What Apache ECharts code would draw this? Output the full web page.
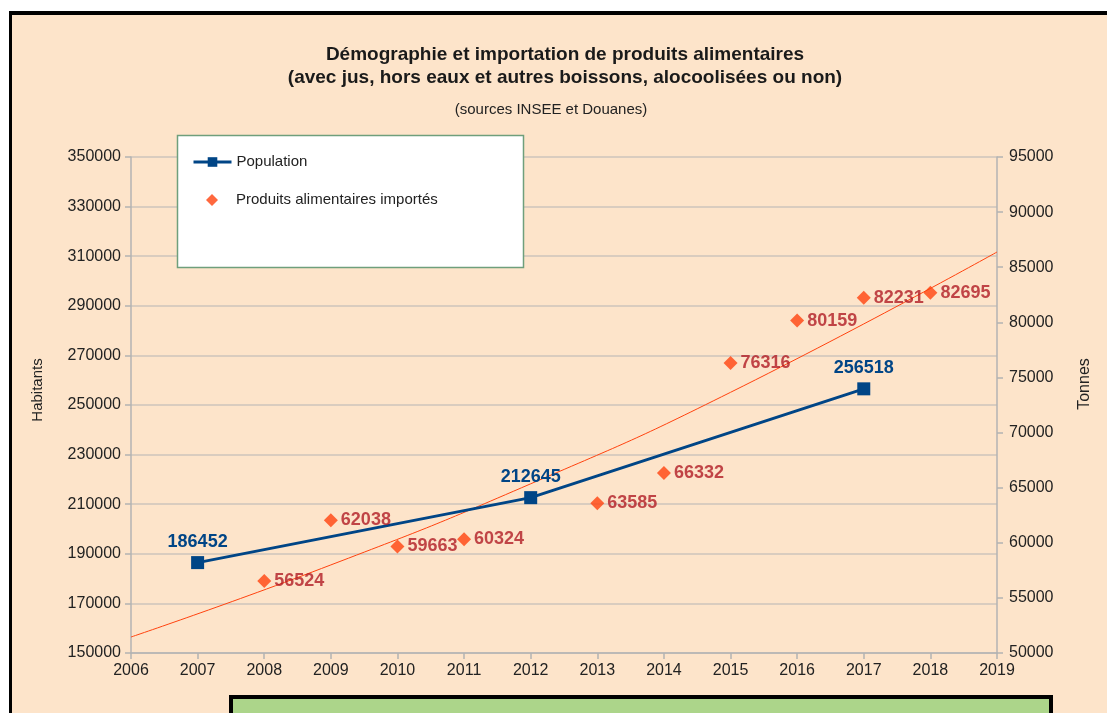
<!DOCTYPE html>
<html>
<head>
<meta charset="utf-8">
<script src="https://cdn.jsdelivr.net/npm/echarts@6/dist/echarts.min.js"></script>
<style>
  html, body { margin: 0; padding: 0; background: #ffffff; }
  .frame {
    position: absolute;
    left: 9px;
    top: 11px;
    width: 1200px;
    height: 800px;
    background: #fde4ca;
    border-top: 4px solid #000;
    border-left: 3px solid #000;
  }
  #chart {
    position: absolute;
    left: 0;
    top: 0;
    width: 1107px;
    height: 713px;
  }
</style>
</head>
<body>
<div class="frame"></div>
<div id="chart"></div>
<script>
// population (Habitants)
const popYears = [2007, 2012, 2017]
const popValues = [186452, 212645, 256518]

// imported food products (Tonnes)
const importYears = [2008, 2009, 2010, 2011, 2013, 2014, 2015, 2016, 2017, 2018]
const importValues = [56524, 62038, 59663, 60324, 63585, 66332, 76316, 80159, 82231, 82695]

// trend curve
const trendYears = [2006, 2009, 2012, 2015, 2019]
const trendValues = [51450, 57990, 65350, 73650, 86380]

const chart = echarts.init(document.getElementById('chart'))

const labelFont = 'Liberation Sans, Arial, sans-serif'

const option = {
  backgroundColor: 'transparent',
  textStyle: { fontFamily: labelFont },
  title: [
    {
      text: 'Démographie et importation de produits alimentaires\n(avec jus, hors eaux et autres boissons, alocoolisées ou non)',
      left: 560,
      top: 38,
      textAlign: 'center',
      textStyle: {
        fontFamily: labelFont,
        fontSize: 19,
        fontWeight: 'bold',
        color: '#1a1a1a',
        lineHeight: 23
      }
    },
    {
      text: '(sources INSEE et Douanes)',
      left: 546,
      top: 97,
      textAlign: 'center',
      textStyle: {
        fontFamily: labelFont,
        fontSize: 15,
        fontWeight: 'normal',
        color: '#222'
      }
    }
  ],
  graphic: [
    {
      type: 'rect',
      z: 3,
      shape: { x: 177.5, y: 135.5, width: 346, height: 132 },
      style: { fill: '#ffffff', stroke: '#6f9f7c', lineWidth: 1.5 }
    },
    {
      type: 'rect',
      z: 3,
      shape: { x: 231, y: 697, width: 820, height: 40 },
      style: { fill: '#acd58a', stroke: '#000', lineWidth: 4 }
    }
  ],
  legend: [
    {
      orient: 'vertical',
      left: 192,
      top: 154,
      padding: 0,
      itemWidth: 38,
      itemHeight: 12,
      z: 5,
      data: ['Population'],
      lineStyle: { width: 3 },
      textStyle: {
        fontFamily: labelFont,
        fontSize: 15,
        color: '#222',
        lineHeight: 16
      }
    },
    {
      orient: 'vertical',
      left: 206,
      top: 192,
      padding: 0,
      itemWidth: 12,
      itemHeight: 12,
      z: 5,
      data: ['Produits alimentaires importés'],
      textStyle: {
        fontFamily: labelFont,
        fontSize: 15,
        color: '#222',
        lineHeight: 16,
        padding: [0, 0, 0, 13]
      }
    }
  ],
  grid: {
    left: 131,
    right: 110,
    top: 157,
    bottom: 60
  },
  xAxis: {
    type: 'value',
    min: 2006,
    max: 2019,
    interval: 1,
    axisLine: { lineStyle: { color: '#b3b3b3', width: 1.5 } },
    axisTick: { length: 6, lineStyle: { color: '#b3b3b3', width: 1.5 } },
    splitLine: { show: false },
    axisLabel: {
      fontSize: 16,
      color: '#222',
      margin: 10,
      formatter: v => String(v)
    }
  },
  yAxis: [
    {
      type: 'value',
      name: 'Habitants',
      nameLocation: 'middle',
      nameGap: 86,
      nameTextStyle: { fontSize: 15, color: '#222', padding: [0, 0, 0, 30] },
      min: 150000,
      max: 350000,
      interval: 20000,
      axisLine: { show: true, lineStyle: { color: '#b3b3b3', width: 1.5 } },
      axisTick: { show: true, length: 6, lineStyle: { color: '#b3b3b3', width: 1.5 } },
      splitLine: { lineStyle: { color: '#cdc5bb', width: 1.5 } },
      axisLabel: {
        fontSize: 16,
        color: '#222',
        margin: 10,
        formatter: v => String(v)
      }
    },
    {
      type: 'value',
      name: 'Tonnes',
      nameLocation: 'middle',
      nameGap: 80,
      nameTextStyle: { fontSize: 16, color: '#222', padding: [0, 0, 0, 42] },
      min: 50000,
      max: 95000,
      interval: 5000,
      axisLine: { show: true, lineStyle: { color: '#b3b3b3', width: 1.5 } },
      axisTick: { show: true, length: 6, lineStyle: { color: '#b3b3b3', width: 1.5 } },
      splitLine: { show: false },
      axisLabel: {
        fontSize: 16,
        color: '#222',
        margin: 12,
        formatter: v => String(v)
      }
    }
  ],
  series: [
    {
      name: 'Trend',
      type: 'line',
      yAxisIndex: 1,
      smooth: true,
      showSymbol: false,
      silent: true,
      data: trendYears.map((y, i) => [y, trendValues[i]]),
      lineStyle: { color: '#ff420e', width: 1 },
      z: 1
    },
    {
      name: 'Population',
      type: 'line',
      yAxisIndex: 0,
      data: popYears.map((y, i) => [y, popValues[i]]),
      symbol: 'rect',
      symbolSize: 13,
      color: '#004586',
      lineStyle: { color: '#004586', width: 3 },
      itemStyle: { color: '#004586' },
      label: {
        show: true,
        position: 'top',
        distance: 5,
        color: '#004586',
        fontSize: 18,
        fontWeight: 'bold',
        formatter: p => String(p.value[1])
      },
      z: 3
    },
    {
      name: 'Produits alimentaires importés',
      type: 'scatter',
      yAxisIndex: 1,
      data: importYears.map((y, i) => [y, importValues[i]]),
      symbol: 'diamond',
      symbolSize: 14,
      color: '#ff420e',
      itemStyle: { color: '#ff420e' },
      label: {
        show: true,
        position: 'right',
        distance: 3,
        color: '#b01c24',
        fontSize: 18,
        fontWeight: 'bold',
        formatter: p => String(p.value[1])
      },
      z: 4
    }
  ]
}

option && chart.setOption(option)
</script>
</body>
</html>
